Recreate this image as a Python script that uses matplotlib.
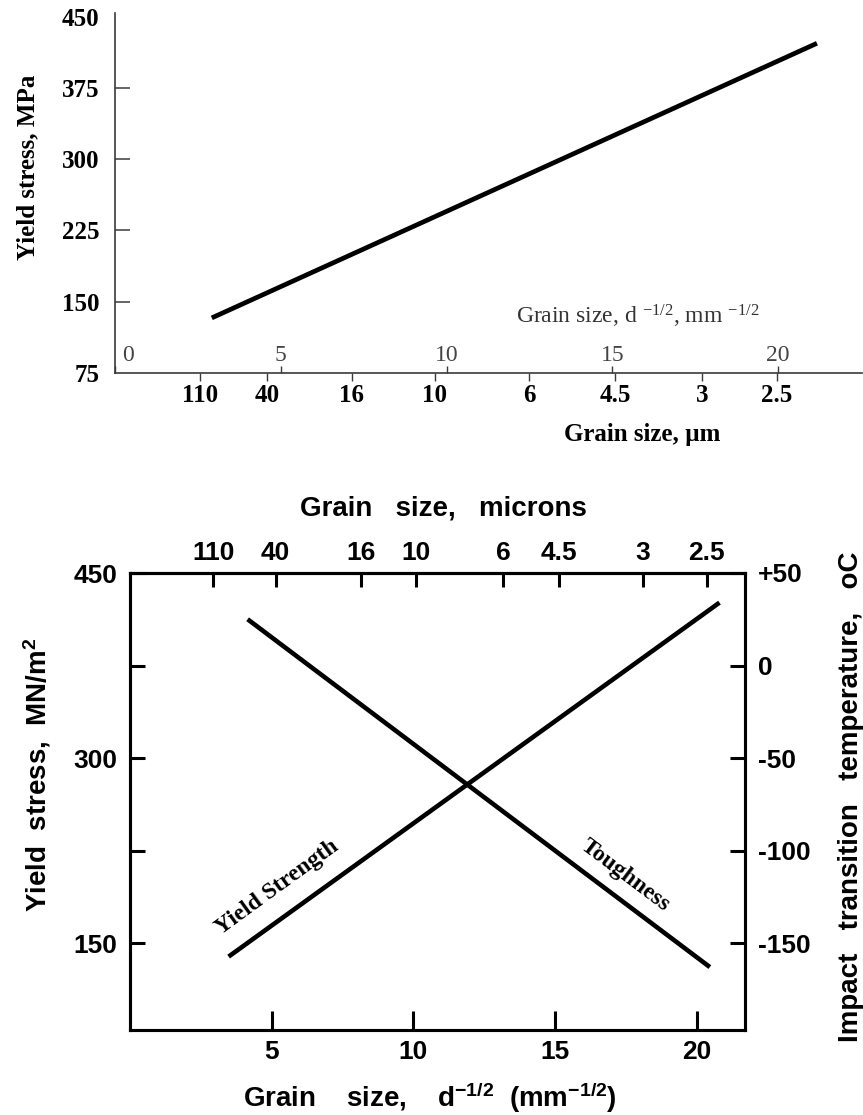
import matplotlib
matplotlib.use("Agg")
import matplotlib.pyplot as plt

# ---------------- data ----------------
# Top chart (Hall-Petch line), x = d^-1/2 (mm^-1/2), y = yield stress (MPa)
top_x = [2.92, 21.17]
top_y = [133, 422]
top_yticks = [75, 150, 225, 300, 375, 450]
top_d_ticks = [0, 5, 10, 15, 20]
top_micron_labels = ["110", "40", "16", "10", "6", "4.5", "3", "2.5"]
top_micron_pos = [2.56, 4.58, 7.14, 9.64, 12.5, 15.09, 17.7, 19.97]

# Bottom chart
ys_x = [3.48, 20.8]        # Yield strength (left axis, MN/m2)
ys_y = [139, 426]
tough_x = [4.15, 20.46]    # Toughness (right axis, deg C)
tough_y = [25, -163]
bot_left_ticks = [150, 225, 300, 375, 450]
bot_left_labels = ["150", "", "300", "", "450"]
bot_right_ticks = [50, 0, -50, -100, -150]
bot_right_labels = ["+50", "0", "-50", "-100", "-150"]
bot_x_ticks = [5, 10, 15, 20]
bot_micron_labels = ["110", "40", "16", "10", "6", "4.5", "3", "2.5"]
bot_micron_pos = [2.94, 5.14, 8.16, 10.1, 13.16, 15.14, 18.09, 20.35]

W, H = 863, 1115
fig = plt.figure(figsize=(W / 100, H / 100), dpi=100)
fig.patch.set_facecolor("white")

def rect(x0, y0, x1, y1):
    # pixel box (top-left origin) -> figure fraction
    return [x0 / W, (H - y1) / H, (x1 - x0) / W, (y1 - y0) / H]

SERIF = "Liberation Serif"
SANS = "Liberation Sans"

# ================= TOP CHART =================
ax = fig.add_axes(rect(115, 16.7, 862, 373))
ax.set_xlim(0, 22.53)
ax.set_ylim(75, 450)
for s in ["top", "right"]:
    ax.spines[s].set_visible(False)
for s in ["left", "bottom"]:
    ax.spines[s].set_color("#3a3a3a")
    ax.spines[s].set_linewidth(1.2)
ax.spines["left"].set_bounds(75, 454)

ax.plot(top_x, top_y, color="black", lw=3.4, solid_capstyle="butt")

ax.set_yticks(top_yticks)
ax.set_yticklabels([str(v) for v in top_yticks], fontfamily=SERIF,
                   fontweight="bold", fontsize=18)
ax.tick_params(axis="y", direction="in", length=11, width=1.1,
               color="#3a3a3a", pad=11)
for i, t in enumerate(ax.yaxis.get_major_ticks()):
    if top_yticks[i] in (75, 450):
        t.tick1line.set_visible(False)

# d^-1/2 scale: small ticks pointing up, labels above the axis
ax.set_xticks(top_d_ticks)
ax.tick_params(axis="x", direction="in", length=5, width=1.0,
               color="#3a3a3a", labelbottom=False)
xtr = ax.get_xaxis_transform()
for v in top_d_ticks:
    if v == 0:
        ax.annotate(str(v), (v, 0.05), xycoords=xtr, xytext=(5, 0),
                    textcoords="offset points", ha="left", va="center",
                    fontfamily=SERIF, fontsize=17, color="#444444")
    else:
        ax.text(v, 0.05, str(v), transform=xtr, ha="center", va="center",
                fontfamily=SERIF, fontsize=17, color="#444444")

# micron scale below the axis
secb = ax.secondary_xaxis("bottom")
secb.spines["bottom"].set_visible(False)
secb.set_xticks(top_micron_pos)
secb.set_xticklabels(top_micron_labels, fontfamily=SERIF, fontweight="bold",
                     fontsize=18)
secb.tick_params(axis="x", direction="out", length=6, width=1.0,
                 color="#3a3a3a", pad=2)

fig.text(28 / W, 1 - 167 / H, "Yield stress, MPa", rotation=90,
         ha="center", va="center", fontfamily=SERIF, fontweight="bold",
         fontsize=18)
fig.text(638 / W, 1 - 316 / H,
         r"Grain size, d $\mathregular{^{-1/2}}$, mm $\mathregular{^{-1/2}}$",
         ha="center", va="center", fontfamily=SERIF, fontsize=17,
         color="#333333")
fig.text(642 / W, 1 - 435 / H, "Grain size, \u00b5m", ha="center",
         va="center", fontfamily=SERIF, fontweight="bold", fontsize=18)

# ================= BOTTOM CHART =================
ax2 = fig.add_axes(rect(130, 573, 745, 1030))
ax2.set_xlim(0, 21.7)
ax2.set_ylim(79.5, 450)
for s in ax2.spines.values():
    s.set_linewidth(2.2)
    s.set_color("black")

ax2.plot(ys_x, ys_y, color="black", lw=3.3, solid_capstyle="butt")

ax2.set_yticks(bot_left_ticks)
ax2.set_yticklabels(bot_left_labels, fontfamily=SANS, fontweight="bold",
                    fontsize=19)
ax2.tick_params(axis="y", direction="in", length=11, width=2.2, pad=9)

ax2.set_xticks(bot_x_ticks)
ax2.set_xticklabels([str(v) for v in bot_x_ticks], fontfamily=SANS,
                    fontweight="bold", fontsize=19)
ax2.tick_params(axis="x", direction="in", length=14, width=2.2, pad=7)

ax3 = ax2.twinx()
ax3.set_ylim(-197, 50)
ax3.plot(tough_x, tough_y, color="black", lw=3.3, solid_capstyle="butt")
ax3.set_yticks(bot_right_ticks)
ax3.set_yticklabels(bot_right_labels, fontfamily=SANS, fontweight="bold",
                    fontsize=19)
ax3.tick_params(axis="y", direction="in", length=11, width=2.2, pad=9)
for s in ax3.spines.values():
    s.set_linewidth(2.2)

sect = ax2.secondary_xaxis("top")
sect.set_xticks(bot_micron_pos)
sect.set_xticklabels(bot_micron_labels, fontfamily=SANS, fontweight="bold",
                     fontsize=19)
sect.tick_params(axis="x", direction="in", length=10, width=2.2, pad=6)
sect.spines["top"].set_linewidth(2.2)

ax2.text(5.19, 195, "Yield Strength", rotation=36, ha="center",
         va="center", fontfamily=SERIF, fontweight="bold", fontsize=17)
ax2.text(17.46, 205, "Toughness", rotation=-37, ha="center", va="center",
         fontfamily=SERIF, fontweight="bold", fontsize=17)

fig.text(443 / W, 1 - 508 / H, "Grain   size,   microns", ha="center",
         va="center", fontfamily=SANS, fontweight="bold", fontsize=20)
fig.text(430 / W, 1 - 1098 / H,
         r"Grain    size,    d$\mathregular{^{-1/2}}$  (mm$\mathregular{^{-1/2}}$)",
         ha="center", va="center", fontfamily=SANS, fontweight="bold",
         fontsize=20)
fig.text(37 / W, 1 - 775 / H, r"Yield  stress,  MN/m$\mathregular{^2}$",
         rotation=90, ha="center", va="center", fontfamily=SANS,
         fontweight="bold", fontsize=20)
fig.text(851 / W, 1 - 797 / H, "Impact   transition   temperature,   oC",
         rotation=90, ha="center", va="center", fontfamily=SANS,
         fontweight="bold", fontsize=20)

fig.savefig("out.png", dpi=100, facecolor="white")
